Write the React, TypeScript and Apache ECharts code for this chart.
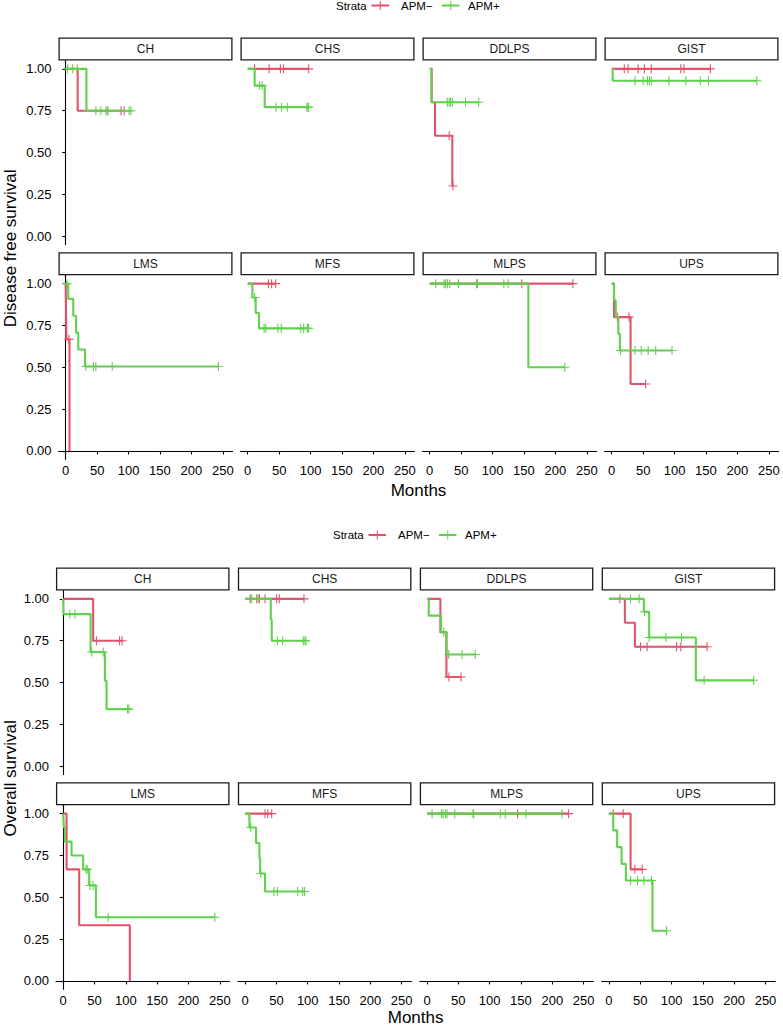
import { useEffect, useRef } from "react";
import * as echarts from "echarts";

// ---------- data ----------
const FACETS = ["CH", "CHS", "DDLPS", "GIST", "LMS", "MFS", "MLPS", "UPS"];
const STRATA = ["APM\u2212", "APM+"];
const X_TICKS = [0, 50, 100, 150, 200, 250];
const Y_TICKS = [0, 0.25, 0.5, 0.75, 1];

// Disease free survival — [months, survival] at each step, one list per facet
const dfsNegSteps = [
  [[0, 1], [19, 0.75], [93, 0.75]],
  [[0, 1], [97, 1]],
  [[0, 1], [3, 0.8], [8.5, 0.6], [36, 0.3], [37, 0.3]],
  [[0, 1], [157, 1]],
  [[0, 1], [1, 0.667], [6, 0]],
  [[0, 1], [44.5, 1]],
  [[0, 1], [228, 1]],
  [[0, 1], [3.7, 0.8], [30, 0.4], [54, 0.4]],
];
const dfsNegCensor = [
  [88, 93],
  [11, 34, 52, 57, 97],
  [31, 37],
  [20, 26, 42, 52, 63, 110, 115, 157],
  [5],
  [33, 38, 44.5],
  [146.5, 228],
  [9, 27.5, 54],
];
const dfsPosSteps = [
  [[0, 1], [33, 0.75], [104, 0.75]],
  [[0, 1], [11, 0.9], [27, 0.771], [97, 0.771]],
  [[0, 1], [3, 0.8], [78, 0.8]],
  [[0, 1], [1.5, 0.929], [231, 0.929]],
  [[0, 1], [4, 0.909], [12, 0.808], [16.4, 0.707], [20, 0.606], [30.7, 0.505], [243, 0.505]],
  [[0, 1], [7.4, 0.917], [12.7, 0.825], [18, 0.733], [97, 0.733]],
  [[0, 1], [157, 0.5], [215, 0.5]],
  [[0, 1], [3.6, 0.9], [6.4, 0.8], [10.5, 0.7], [13, 0.6], [96, 0.6]],
];
const dfsPosCensor = [
  [3, 11, 18.5, 48, 56, 64, 66, 67.5, 101, 104],
  [19, 23, 45, 54, 63, 94, 96, 97],
  [28, 31, 33, 36, 57, 78],
  [37, 50, 57, 60, 63, 91, 118, 141, 154, 231],
  [2, 32, 44, 48, 74, 243],
  [11, 26, 28.7, 48, 53.5, 84.5, 89, 95, 97],
  [9.6, 22.8, 25.4, 28, 32, 45.7, 74.3, 76, 118, 124.7, 215],
  [13.8, 37, 47, 58, 70, 96],
];

// Overall survival
const osNegSteps = [
  [[0, 1], [47.8, 0.75], [94, 0.75]],
  [[0, 1], [94, 1]],
  [[0, 1], [21.4, 0.8], [31, 0.533], [54.4, 0.533]],
  [[0, 1], [25.5, 0.857], [41.5, 0.714], [157, 0.714]],
  [[0, 1], [5.4, 0.667], [25.5, 0.333], [106.4, 0]],
  [[0, 1], [42.5, 1]],
  [[0, 1], [226, 1]],
  [[0, 1], [34.6, 0.667], [53.2, 0.667]],
];
const osNegCensor = [
  [53, 90, 94],
  [8, 18.6, 22.8, 31.9, 50.5, 54.7, 94],
  [35, 54.4],
  [17.5, 50.5, 61, 108, 114.8, 156.8],
  [],
  [31.9, 36.2, 42.5],
  [144.7, 226],
  [6.9, 22.8, 41.5, 53.2],
];
const osPosSteps = [
  [[0, 1], [0.5, 0.909], [43.7, 0.682], [66.5, 0.511], [69.2, 0.341], [105, 0.341]],
  [[0, 1], [41, 0.875], [42.5, 0.75], [97, 0.75]],
  [[0, 1], [2.8, 0.9], [22.5, 0.8], [31, 0.667], [77, 0.667]],
  [[0, 1], [55.8, 0.923], [64.3, 0.769], [138.8, 0.513], [231, 0.513]],
  [[0, 1], [1, 0.917], [2.6, 0.833], [13.4, 0.75], [31.9, 0.667], [41.5, 0.571], [52.2, 0.381], [242, 0.381]],
  [[0, 1], [6.9, 0.917], [17.5, 0.825], [22.8, 0.733], [24, 0.642], [31.9, 0.535], [95, 0.535]],
  [[0, 1], [215.5, 1]],
  [[0, 1], [6.9, 0.9], [13.2, 0.8], [20.2, 0.7], [27.1, 0.6], [69.6, 0.3], [92, 0.3]],
];
const osPosCensor = [
  [10.7, 18.7, 45.5, 63.8, 102.7, 105],
  [10.6, 21, 51.5, 60, 93, 95.7, 97],
  [26.7, 34.6, 56, 77],
  [34.6, 48.3, 57, 64.3, 90.9, 116, 152, 231],
  [36.2, 38.3, 42.5, 47.9, 71.8, 242],
  [9, 25, 46.2, 51.5, 84, 92, 95],
  [8.1, 23, 25.6, 29.3, 32, 44.3, 73.5, 74.5, 117, 125, 158, 215.5],
  [34.6, 45.7, 55.8, 68, 92],
];

// ---------- styling ----------
const COLORS = ["#DF536B", "#61D04F"];
const FONT = "'Liberation Sans', Arial, Helvetica, sans-serif";
const PLUS = "path://M0,4.4L10,4.4L10,5.6L0,5.6Z M4.4,0L5.6,0L5.6,10L4.4,10Z";
const TICK_FS = 13;
const STRIP_FS = 12;
const TITLE_FS = 17;
const LEGEND_FS = 11.5;

function survAt(steps: number[][], t: number) {
  let s = steps[0][1];
  for (const [x, y] of steps) if (x <= t) s = y;
  return s;
}

const SECTIONS = [
  {
    title: "Disease free survival",
    neg: dfsNegSteps, negC: dfsNegCensor, pos: dfsPosSteps, posC: dfsPosCensor,
    left0: 58.5, colStep: 182, width: 174, tops: [60.5, 275.3], legendY: 5.5, legendDX: 0, monthsDY: 31,
  },
  {
    title: "Overall survival",
    neg: osNegSteps, negC: osNegCensor, pos: osPosSteps, posC: osPosCensor,
    left0: 56, colStep: 181.9, width: 173.5, tops: [590.5, 805.3], legendY: 535, legendDX: -3, monthsDY: 28,
  },
];
const PANEL_H = 184;
const STRIP_H = 23;

function buildOption() {
  const grid: any[] = [];
  const xAxis: any[] = [];
  const yAxis: any[] = [];
  const graphic: any[] = [];
  const lineSeries: any[] = [];
  const markSeries: any[] = [];

  SECTIONS.forEach((sec) => {
    FACETS.forEach((name, i) => {
      const r = Math.floor(i / 4);
      const c = i % 4;
      const g = grid.length;
      const left = sec.left0 + c * sec.colStep;
      const top = sec.tops[r];
      grid.push({ left, top, width: sec.width, height: PANEL_H, containLabel: false });
      xAxis.push({
        gridIndex: g, type: "value", min: -11.5, max: 265.5, show: r === 1,
        axisLine: { show: true, lineStyle: { color: "#000", width: 1.1 } },
        axisTick: { show: true, length: 3.5, customValues: X_TICKS, lineStyle: { color: "#000", width: 1.1 } },
        axisLabel: { customValues: X_TICKS, margin: 5, fontSize: TICK_FS, color: "#000", fontFamily: FONT },
        splitLine: { show: false },
      });
      yAxis.push({
        gridIndex: g, type: "value", min: -0.05, max: 1.05, show: c === 0,
        axisLine: { show: true, lineStyle: { color: "#000", width: 1.1 } },
        axisTick: { show: true, length: 3.5, customValues: Y_TICKS, lineStyle: { color: "#000", width: 1.1 } },
        axisLabel: {
          customValues: Y_TICKS, margin: 7, fontSize: TICK_FS, color: "#000", fontFamily: FONT,
          formatter: (v: number) => v.toFixed(2),
        },
        splitLine: { show: false },
      });
      // strip
      graphic.push({
        type: "rect", z: 10,
        shape: { x: left + 0.6, y: top - STRIP_H + 0.6, width: sec.width - 1.2, height: STRIP_H - 1.2 },
        style: { fill: "#fff", stroke: "#1a1a1a", lineWidth: 1.3 },
      });
      graphic.push({
        type: "text", z: 11, x: left + sec.width / 2, y: top - STRIP_H / 2,
        style: { text: name, align: "center", verticalAlign: "middle", fontSize: STRIP_FS, fontFamily: FONT, fill: "#1a1a1a" },
      });
      const curves = [
        { steps: sec.neg[i], cens: sec.negC[i], color: COLORS[0], label: STRATA[0] },
        { steps: sec.pos[i], cens: sec.posC[i], color: COLORS[1], label: STRATA[1] },
      ];
      curves.forEach((cv) => {
        lineSeries.push({
          type: "line", name: cv.label, xAxisIndex: g, yAxisIndex: g, step: "end",
          data: cv.steps, showSymbol: false, symbol: "none",
          lineStyle: { color: cv.color, width: 2.1 }, silent: true,
        });
        markSeries.push({
          type: "scatter", name: cv.label, xAxisIndex: g, yAxisIndex: g,
          data: cv.cens.map((t: number) => [t, survAt(cv.steps, t)]),
          symbol: PLUS, symbolSize: 9, itemStyle: { color: cv.color, opacity: 1 }, silent: true,
        });
      });
    });

    // y title
    const yc = (sec.tops[0] - STRIP_H + sec.tops[1] + PANEL_H) / 2;
    graphic.push({
      type: "text", x: 10, y: yc, rotation: Math.PI / 2,
      style: { text: sec.title, align: "center", verticalAlign: "middle", fontSize: TITLE_FS, fontFamily: FONT, fill: "#000" },
    });
    // x title
    const xc = (sec.left0 + sec.left0 + 3 * sec.colStep + sec.width) / 2;
    graphic.push({
      type: "text", x: xc, y: sec.tops[1] + PANEL_H + sec.monthsDY,
      style: { text: "Months", align: "center", verticalAlign: "middle", fontSize: TITLE_FS, fontFamily: FONT, fill: "#000" },
    });
    // legend
    const ly = sec.legendY;
    const dx = sec.legendDX;
    graphic.push({
      type: "text", x: 336 + dx, y: ly,
      style: { text: "Strata", align: "left", verticalAlign: "middle", fontSize: LEGEND_FS, fontFamily: FONT, fill: "#000" },
    });
    const keys = [
      { x0: 371.5 + dx, tx: 401 + dx, color: COLORS[0], label: STRATA[0] },
      { x0: 442 + dx, tx: 468 + dx, color: COLORS[1], label: STRATA[1] },
    ];
    keys.forEach((k) => {
      graphic.push({ type: "line", shape: { x1: k.x0, y1: ly, x2: k.x0 + 17.5, y2: ly }, style: { stroke: k.color, lineWidth: 2 } });
      graphic.push({ type: "line", shape: { x1: k.x0 + 8.75, y1: ly - 4.5, x2: k.x0 + 8.75, y2: ly + 4.5 }, style: { stroke: k.color, lineWidth: 1.1 } });
      graphic.push({
        type: "text", x: k.tx, y: ly,
        style: { text: k.label, align: "left", verticalAlign: "middle", fontSize: LEGEND_FS, fontFamily: FONT, fill: "#000" },
      });
    });
  });

  return {
    animation: false,
    backgroundColor: "#fff",
    textStyle: { fontFamily: FONT },
    grid, xAxis, yAxis,
    series: [...lineSeries, ...markSeries],
    graphic,
  };
}

export default function App() {
  const ref = useRef<HTMLDivElement>(null);
  useEffect(() => {
    document.body.style.margin = "0";
    if (!ref.current) return;
    const chart = echarts.init(ref.current, undefined, { renderer: "svg" });
    chart.setOption(buildOption() as any);
    return () => chart.dispose();
  }, []);
  return <div ref={ref} style={{ width: 783, height: 1026, position: "absolute", left: 0, top: 0 }} />;
}
